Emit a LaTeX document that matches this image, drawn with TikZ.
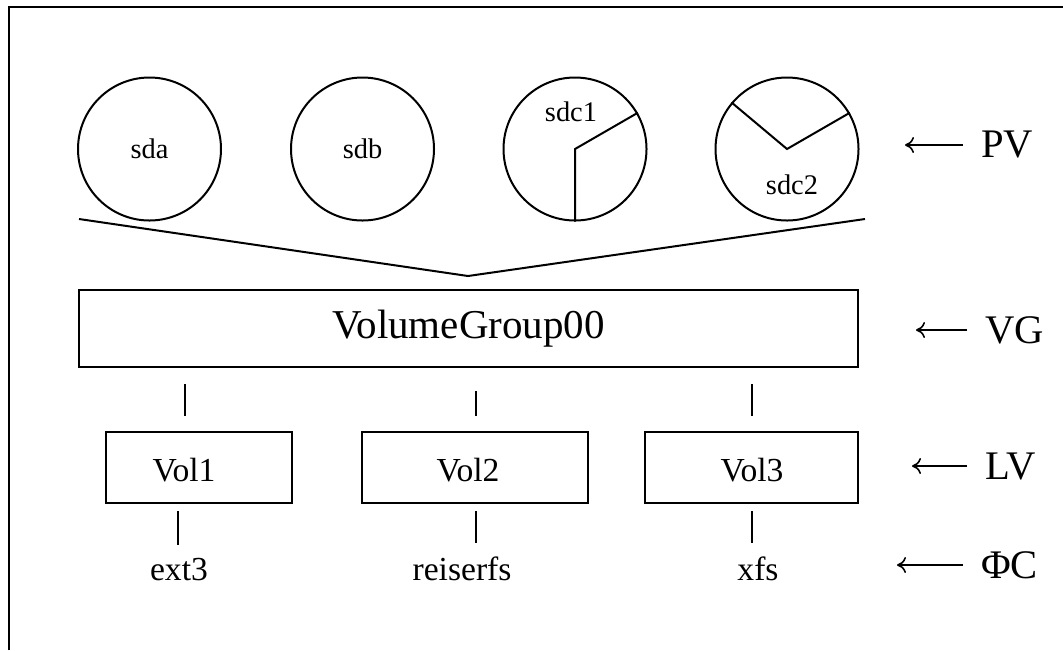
\documentclass[tikz,border=0pt]{standalone}
\usepackage{fontspec}
\setmainfont{Liberation Serif}
\usetikzlibrary{arrows,arrows.meta}

\tikzset{
  disk/.style={draw, circle, minimum size=71.5pt, inner sep=0pt, font=\fontsize{14.2}{16}\selectfont},
  disktext/.style={inner sep=0pt, font=\fontsize{14.2}{16}\selectfont},
  box/.style={draw, rectangle, inner sep=0pt},
  boxtext/.style={inner sep=0pt, font=\fontsize{16.8}{19}\selectfont},
  fstext/.style={inner sep=0pt, anchor=base, font=\fontsize{16.8}{19}\selectfont},
  tag/.style={inner sep=0pt, anchor=west, font=\fontsize{20.3}{23}\selectfont},
  tagarrow/.style={-{To[length=4.5pt,width=8pt]}, line width=0.8pt, shorten <=8.5pt},
  tick/.style={shorten <=8pt, shorten >=7.5pt},
  fstick/.style={shorten <=3.5pt, shorten >=6pt}
}

\begin{document}
\begin{tikzpicture}[x=0.5pt, y=-0.5pt, line width=1pt]

	\useasboundingbox (0,0) rectangle (1063,650);
	\draw (8.5,650) -- (8.5,7) -- (1063,7);

	% physical volumes
	\node[disk] (sda) at (149.5,149) {sda};
	\node[disk] (sdb) at (362.5,149) {sdb};
	\node[disk] (sdc1) at (575,149) {};
	\node[disk] (sdc2) at (787,149) {};
	\node[disktext] at (571,112) {sdc1};
	\node[disktext] at (792,185) {sdc2};
	\draw (sdc1.south) -- (sdc1.center) -- (sdc1.30);
	\draw (sdc2.140) -- (sdc2.center) -- (sdc2.30);

	\coordinate (funl) at (79,219);
	\coordinate (funm) at (468,276);
	\coordinate (funr) at (865,219);
	\draw (funl) -- (funm) -- (funr);

	% volume group
	\node[box, inner sep=0pt, font=\fontsize{20.5}{23}\selectfont, minimum width=389.5pt, minimum height=38.5pt] (vg) at (468.5,328.5) {VolumeGroup00};

	% logical volumes
	\node[box, minimum width=93pt, minimum height=35.5pt] (vol1) at (199,467.5) {};
	\node[box, minimum width=113pt, minimum height=35.5pt] (vol2) at (475,467.5) {};
	\node[box, minimum width=106.5pt, minimum height=35.5pt] (vol3) at (751.5,467.5) {};
	\node[boxtext] at (184,470) {Vol1};
	\node[boxtext] at (468,470) {Vol2};
	\node[boxtext] at (752,470) {Vol3};

	\draw[tick] (vg.south -| 185,0) -- (vol1.north -| 185,0);
	\draw[tick, shorten <=11.5pt] (vg.south -| 476,0) -- (vol2.north -| 476,0);
	\draw[tick] (vg.south -| 752,0) -- (vol3.north -| 752,0);

	% file systems
	\node[fstext] (ext) at (179,580) {ext3};
	\node[fstext] (reiser) at (462,580) {reiserfs};
	\node[fstext] (xfs) at (758,580) {xfs};
	\draw[fstick] (vol1.south -| 178,0) -- (ext.north -| 178,0);
	\draw[fstick] (vol2.south -| 476,0) -- (reiser.north -| 476,0);
	\draw[fstick] (vol3.south -| 752,0) -- (xfs.north -| 752,0);

	% layer names
	\node[tag] (pv) at (980,145) {PV};
	\node[tag] (vgtag) at (984,330) {VG};
	\node[tag] (lv) at (984,466) {LV};
	\node[tag] (fs) at (980,565) {ΦC};
	\draw[tagarrow] (pv.west) -- ++(-75,0);
	\draw[tagarrow] (vgtag.west) -- ++(-68,0);
	\draw[tagarrow] (lv.west) -- ++(-72,0);
	\draw[tagarrow] (fs.west) -- ++(-83,0);

\end{tikzpicture}
\end{document}
